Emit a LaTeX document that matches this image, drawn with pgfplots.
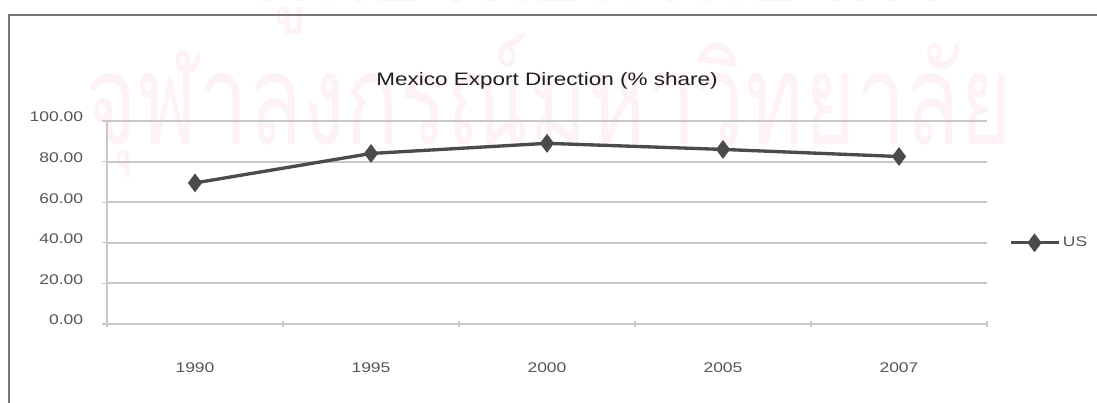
\documentclass[border=0pt]{standalone}
\usepackage{pgfplots}
\pgfplotsset{compat=1.18}
\usepackage{pgfplotstable}
\usepackage{fontspec}
\setmainfont{Liberation Sans}[FakeStretch=1.25]
\newfontfamily\thaifont[Script=Thai]{Loma}
\definecolor{wm}{RGB}{253,242,247}
\definecolor{gridc}{RGB}{200,200,200}
\definecolor{linec}{RGB}{75,75,75}
\definecolor{labc}{RGB}{85,85,85}
\definecolor{framec}{RGB}{120,120,120}

\pgfplotstableread{
x y
0 69.5
1 84.0
2 89.0
3 86.0
4 82.5
}\datatable

\begin{document}
\begin{tikzpicture}
\path[use as bounding box] (0,0) rectangle (822.75pt,-302.25pt);
\begin{scope}
\clip (0,0) rectangle (822.75pt,-302.25pt);
\node[text=wm, font=\thaifont\fontsize{95}{95}\selectfont, anchor=base west, inner sep=0] at (64pt,-108.75pt) {\scalebox{0.7}[1]{จุฬาลงกรณ์มหาวิทยาลัย}};
\node[text=wm, font=\thaifont\fontsize{95}{95}\selectfont, anchor=base west, inner sep=0] at (190pt,-1.5pt) {\scalebox{0.7}[1]{ศูนย์วิทยทรัพยากร}};
\end{scope}
\draw[framec, line width=1.5pt] (6.75pt,-302.25pt) -- (6.75pt,-11.25pt) -- (822.75pt,-11.25pt);
\begin{axis}[
  scale only axis,
  width=660pt, height=152.25pt,
  at={(80.25pt,-243pt)}, anchor=south west,
  xmin=-0.5, xmax=4.5, ymin=0, ymax=100,
  ytick={0,20,40,60,80,100},
  xtick={0,1,2,3,4},
  xticklabels={1990,1995,2000,2005,2007},
  minor xtick={-0.5,0.5,1.5,2.5,3.5,4.5},
  major x tick style={draw=none},
  tick align=outside,
  major tick length=6.75pt,
  minor tick length=4pt,
  axis x line=bottom, axis y line=left,
  axis line style={-, gridc, line width=1.2pt},
  tick style={gridc, line width=1pt},
  ymajorgrids,
  grid style={gridc, line width=1.5pt},
  /pgf/number format/.cd, fixed, fixed zerofill, precision=2, assume math mode=true,
  /pgfplots/.cd,
  yticklabel style={font=\fontsize{10.5}{12}\selectfont, text=labc, yshift=3pt, xshift=-11pt},
  xticklabel style={font=\fontsize{10.5}{12}\selectfont, text=labc, yshift=-22pt},
  title={Mexico Export Direction (\% share)},
  title style={at={(0.5,1)}, anchor=center, yshift=24pt, font=\fontsize{13.5}{15}\selectfont, text={rgb,255:red,30;green,30;blue,30}},
  legend style={at={(1.02,0.40)}, anchor=west, draw=none, fill=none, font=\fontsize{10.5}{12}\selectfont, text=labc},
  legend image code/.code={\draw[mark repeat=2,mark phase=2] plot coordinates {(0pt,0pt)(18pt,0pt)(36pt,0pt)};},
]
\addplot[linec, line width=2.5pt, mark=diamond*, mark size=5pt, mark options={solid, fill=linec}] table[x=x,y=y]{\datatable};
\addlegendentry{US}
\end{axis}
\end{tikzpicture}
\end{document}
